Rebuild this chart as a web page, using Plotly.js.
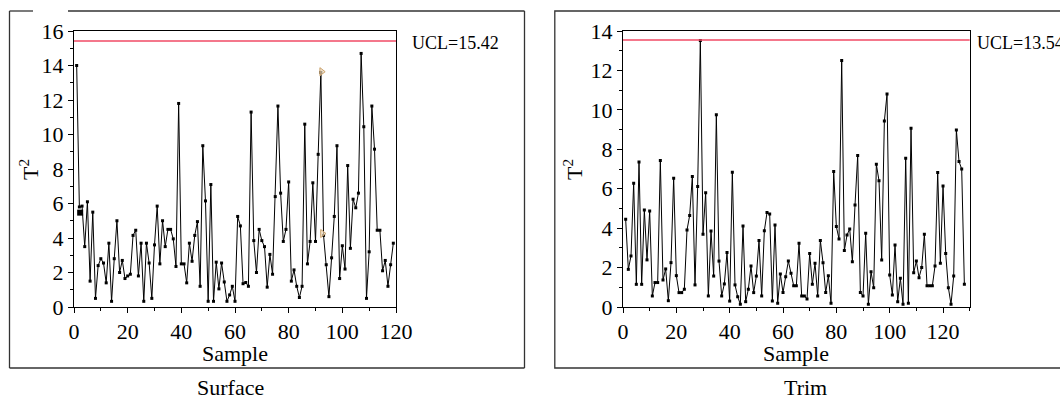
<!DOCTYPE html>
<html>
<head>
<meta charset="utf-8">
<script src="https://cdn.plot.ly/plotly-3.0.1.min.js"></script>
<style>
html,body{margin:0;padding:0;background:#fff;}
#chart{width:1060px;height:400px;}
#chart .main-svg text{font-family:"Liberation Serif" !important;}
</style>
</head>
<body>
<div id="chart"></div>
<script>
// ---- Data ----
const surfaceT2 = [14.0,5.8,5.85,3.5,6.1,1.5,5.5,0.5,2.4,2.8,2.55,1.4,3.7,0.33,2.8,5.0,2.0,2.7,1.65,1.8,
  1.9,4.15,4.45,1.8,3.7,0.33,3.7,2.55,0.5,3.6,5.85,2.5,5.0,3.5,4.5,4.5,3.95,2.35,11.8,2.5,
  2.5,1.4,3.7,2.65,4.15,4.95,1.2,9.35,6.15,0.33,7.1,0.33,2.6,1.05,2.55,1.45,0.33,0.7,1.2,0.33,
  5.25,4.7,1.35,1.42,1.2,11.3,3.85,2.0,4.5,3.85,3.5,1.15,3.05,1.9,6.4,11.65,6.6,3.8,4.5,7.25,
  1.5,2.15,1.2,0.55,1.2,10.6,2.5,3.8,7.2,3.8,8.85,13.6,4.15,2.45,0.6,2.85,5.25,9.35,1.65,3.55,
  2.2,8.2,3.4,6.25,5.75,6.6,14.7,10.45,0.5,3.2,11.65,9.15,4.45,4.45,2.1,2.7,1.2,2.45,3.7];
const trimT2 = [4.45,1.91,2.59,6.28,1.15,7.36,1.15,4.92,2.39,4.87,0.56,1.24,1.24,7.43,1.37,1.93,0.32,2.25,6.53,1.59,
  0.73,0.73,0.9,3.91,4.64,6.62,1.12,6.11,13.52,3.69,5.8,0.56,3.86,1.57,9.75,2.33,0.56,1.17,2.76,0.3,
  6.84,1.12,0.52,0.14,4.11,0.27,0.9,2.08,0.73,1.57,3.37,0.56,3.87,4.79,4.72,0.3,4.16,0.19,1.68,0.73,
  1.54,2.33,1.71,1.08,1.08,3.23,0.56,0.56,0.41,2.72,1.15,2.22,0.56,3.37,2.25,0.73,1.59,0.19,6.87,4.08,
  3.45,12.5,2.86,3.65,3.96,2.3,5.18,7.68,0.73,0.56,3.74,0.14,1.79,0.98,7.24,6.4,2.39,9.44,10.8,1.62,
  0.61,3.15,0.27,1.46,0.14,7.55,0.19,9.07,1.74,2.33,1.49,2.0,3.69,1.08,1.08,1.08,2.08,6.82,2.22,6.14,
  2.72,0.98,0.14,1.57,8.98,7.38,7.0,1.15];
const surfaceSample = surfaceT2.map((_, i) => i + 1);
const trimSample = trimT2.map((_, i) => i + 1);
const surfaceUCL = 15.42;
const trimUCL = 13.54;
const captions = ["Surface", "Trim"];
const yTitle = 'T<sup>2</sup>';
const xTitle = 'Sample';
const yTicksSurface = [0,2,4,6,8,10,12,14,16];
const yTicksTrim = [0,2,4,6,8,10,12,14];
const xTicks = [0,20,40,60,80,100,120];
// extra markers seen in the reference
const surfaceSquareX = [2.3], surfaceSquareY = [5.47];
const surfaceFlagX = [92.3, 92.6], surfaceFlagY = [13.64, 4.26];

// ---- helpers (pixel -> paper) ----
const W = 1060, H = 400;
const px = v => v / W, py = v => 1 - v / H;
const FONT = "Liberation Serif";
const mkFont = s => ({family: FONT, size: s, color: '#000'});

const lineTrace = (x, y, xa, ya) => ({
  x: x, y: y, xaxis: xa, yaxis: ya, type: 'scatter', mode: 'lines+markers',
  line: {color: '#000', width: 1}, marker: {symbol: 'square', size: 3, color: '#000'},
  showlegend: false
});

const data = [
  lineTrace(surfaceSample, surfaceT2, 'x', 'y'),
  lineTrace(trimSample, trimT2, 'x2', 'y2'),
  {x: surfaceSquareX, y: surfaceSquareY, xaxis: 'x', yaxis: 'y', type: 'scatter', mode: 'markers',
   marker: {symbol: 'square', size: 6, color: '#000'}, showlegend: false},
  {x: surfaceFlagX, y: surfaceFlagY, xaxis: 'x', yaxis: 'y', type: 'scatter', mode: 'markers',
   marker: {symbol: 'triangle-right', size: 7, color: 'rgba(240,220,190,0.7)', line: {color: '#c9a06a', width: 1}},
   showlegend: false}
];

const axisBase = () => ({
  showline: true, mirror: true, linecolor: '#000', linewidth: 1,
  ticks: 'outside', ticklen: 5, tickwidth: 1, tickcolor: '#000',
  showgrid: false, zeroline: false, fixedrange: true,
  tickfont: mkFont(22)
});
const xaxisFor = (dom, range, anchor) => Object.assign(axisBase(), {
  domain: dom, range: range, tickvals: xTicks.slice(), anchor: anchor,
  minor: {dtick: 10, tick0: 0, ticks: 'outside', ticklen: 3, tickcolor: '#000'}
});
const yaxisFor = (anchor, range, ticks) => Object.assign(axisBase(), {
  domain: [py(307), py(31)], range: range, tickvals: ticks.slice(), anchor: anchor,
  minor: {dtick: 1, tick0: 0, ticks: 'outside', ticklen: 3, tickcolor: '#000'}
});

const ann = (x, y, text, size, extra) => Object.assign({
  xref: 'paper', yref: 'paper', x: px(x), y: py(y), xanchor: 'center', yanchor: 'middle',
  showarrow: false, text: text, font: mkFont(size)
}, extra || {});

const layout = {
  width: W, height: H, margin: {l: 0, r: 0, t: 0, b: 0},
  font: mkFont(22),
  paper_bgcolor: '#fff', plot_bgcolor: '#fff', showlegend: false,
  xaxis: xaxisFor([px(74), px(396)], [0, 120], 'y'),
  yaxis: yaxisFor('x', [0, 16], yTicksSurface),
  xaxis2: xaxisFor([px(623), px(969.7)], [0, 130], 'y2'),
  yaxis2: yaxisFor('x2', [0, 14], yTicksTrim),
  shapes: [
    // UCL lines
    {type: 'line', xref: 'x domain', yref: 'y', x0: 0, x1: 1, y0: surfaceUCL, y1: surfaceUCL, line: {color: '#f04a64', width: 1.5}},
    {type: 'line', xref: 'x2 domain', yref: 'y2', x0: 0, x1: 1, y0: trimUCL, y1: trimUCL, line: {color: '#f04a64', width: 1.5}},
    // outer frames (the left one has a gap in its top edge)
    {type: 'line', xref: 'paper', yref: 'paper', x0: px(9.5), x1: px(33), y0: py(11), y1: py(11), line: {color: '#333', width: 1.3}},
    {type: 'line', xref: 'paper', yref: 'paper', x0: px(68), x1: px(524.5), y0: py(11), y1: py(11), line: {color: '#333', width: 1.3}},
    {type: 'line', xref: 'paper', yref: 'paper', x0: px(9.5), x1: px(9.5), y0: py(11), y1: py(368), line: {color: '#333', width: 1.3}},
    {type: 'line', xref: 'paper', yref: 'paper', x0: px(524.5), x1: px(524.5), y0: py(11), y1: py(368), line: {color: '#333', width: 1.3}},
    {type: 'line', xref: 'paper', yref: 'paper', x0: px(9.5), x1: px(524.5), y0: py(368), y1: py(368), line: {color: '#333', width: 1.3}},
    {type: 'rect', xref: 'paper', yref: 'paper', x0: px(554.8), x1: px(1075), y0: py(368), y1: py(11), line: {color: '#333', width: 1.3}}
  ],
  annotations: [
    ann(29, 170, yTitle, 22, {textangle: -90}),
    ann(573, 170, yTitle, 22, {textangle: -90}),
    ann(235, 353, xTitle, 22),
    ann(796, 353, xTitle, 22),
    ann(410, 43, 'UCL=' + surfaceUCL.toFixed(2), 18, {xanchor: 'left'}),
    ann(975, 43, 'UCL=' + trimUCL.toFixed(2), 18, {xanchor: 'left'}),
    ann(230, 387, captions[0], 22),
    ann(805, 387, captions[1], 22)
  ]
};

Plotly.newPlot('chart', data, layout, {staticPlot: true, displayModeBar: false});
</script>
</body>
</html>
